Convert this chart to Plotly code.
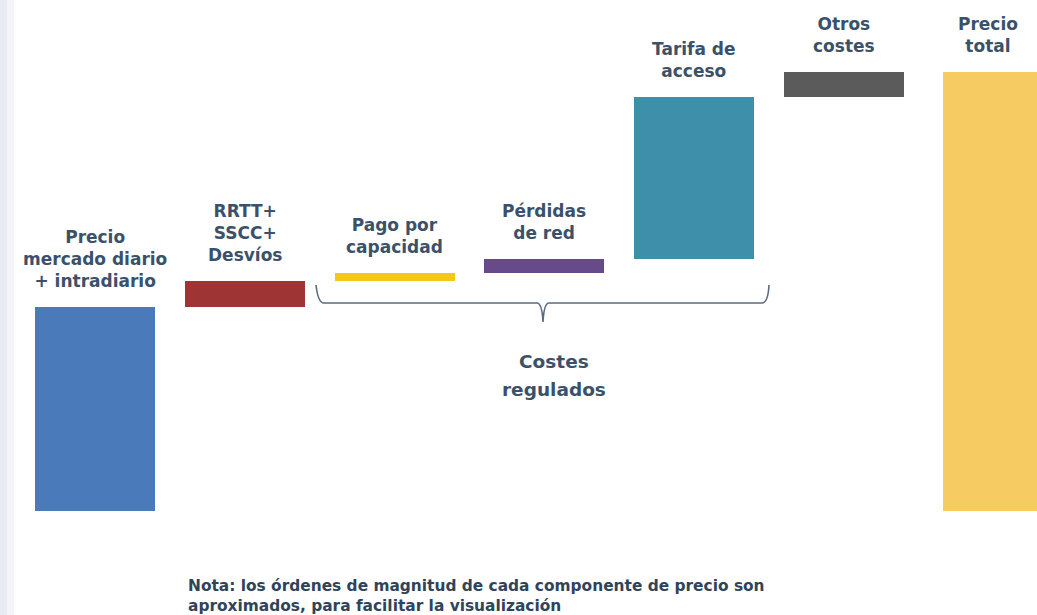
import plotly.graph_objects as go

# Price components (arbitrary units, orders of magnitude only)
categories = [
    "Precio<br>mercado diario<br>+ intradiario",
    "RRTT+<br>SSCC+<br>Desvíos",
    "Pago por<br>capacidad",
    "Pérdidas<br>de red",
    "Tarifa de<br>acceso",
    "Otros<br>costes",
    "Precio<br>total",
]
components = [204, 26, 8, 14, 162, 25]
colors = ["#4a7aba", "#9e3434", "#f3c817", "#684a8a", "#3e8fa9", "#5b5b5b", "#f6cb62"]
group_label = ["Costes", "regulados"]

W, H = 1037, 615
TEXT = "#3b5169"
FONT = "DejaVu Sans, Verdana, sans-serif"

# waterfall bases / heights
total = sum(components)
heights = components + [total]
bases = []
acc = 0
for v in components:
    bases.append(acc)
    acc += v
bases.append(0)

idx = list(range(len(categories)))
offsets = [-0.4] * 6 + [-0.34]

fig = go.Figure()
fig.add_trace(go.Bar(
    x=idx, y=heights, base=bases,
    width=0.8, offset=offsets,
    marker=dict(color=colors, line=dict(width=0)),
    hoverinfo="skip",
))

# labels above each bar
xshifts = [0, 0, 0, 0, 0, 0, -6]
for i, (lab, b, h) in enumerate(zip(categories, bases, heights)):
    fig.add_annotation(
        x=i, y=b + h, text=f"<b>{lab}</b>", showarrow=False,
        xanchor="center", yanchor="bottom", yshift=14, xshift=xshifts[i],
        font=dict(family=FONT, size=17, color=TEXT),
        align="center",
    )

# curly brace grouping the regulated costs
def px(x):
    return x / W

def py(y):
    return 1 - y / H

brace = (
    f"M {px(316)} {py(285)} "
    f"Q {px(318)} {py(303)} {px(324)} {py(303)} "
    f"L {px(537)} {py(303)} "
    f"Q {px(542)} {py(303)} {px(543)} {py(322)} "
    f"Q {px(544)} {py(303)} {px(549)} {py(303)} "
    f"L {px(762)} {py(303)} "
    f"Q {px(768)} {py(303)} {px(769)} {py(285)}"
)
fig.add_shape(type="path", path=brace, xref="paper", yref="paper",
              line=dict(color="#5a6b80", width=1.6))

for line, ypix in zip(group_label, [361, 389]):
    fig.add_annotation(
        x=px(554), y=py(ypix), xref="paper", yref="paper",
        text=f"<b>{line}</b>", showarrow=False,
        xanchor="center", yanchor="middle", align="center",
        font=dict(family=FONT, size=18.5, color=TEXT),
    )

fig.add_annotation(
    x=px(186), y=py(596), xref="paper", yref="paper",
    text="<b>Nota: los órdenes de magnitud de cada componente de precio son<br>"
         "aproximados, para facilitar la visualización</b>",
    showarrow=False, xanchor="left", yanchor="middle", align="left",
    font=dict(family=FONT, size=15.4, color="#2f4459"),
)

# faint haze along the left edge
for x1, c in [(14, "#f4f5fa"), (7, "#e8eaf4")]:
    fig.add_shape(type="rect", xref="paper", yref="paper",
                  x0=0, x1=px(x1), y0=0, y1=1,
                  fillcolor=c, line=dict(width=0), layer="below")

scale = 149.8
x0 = -95 / scale
fig.update_layout(
    width=W, height=H,
    margin=dict(l=0, r=0, t=0, b=0),
    paper_bgcolor="white", plot_bgcolor="white",
    showlegend=False,
    bargap=0,
    xaxis=dict(range=[x0, x0 + W / scale], visible=False, fixedrange=True),
    yaxis=dict(range=[-104, 511], visible=False, fixedrange=True),
)

fig.write_html("out.html")
